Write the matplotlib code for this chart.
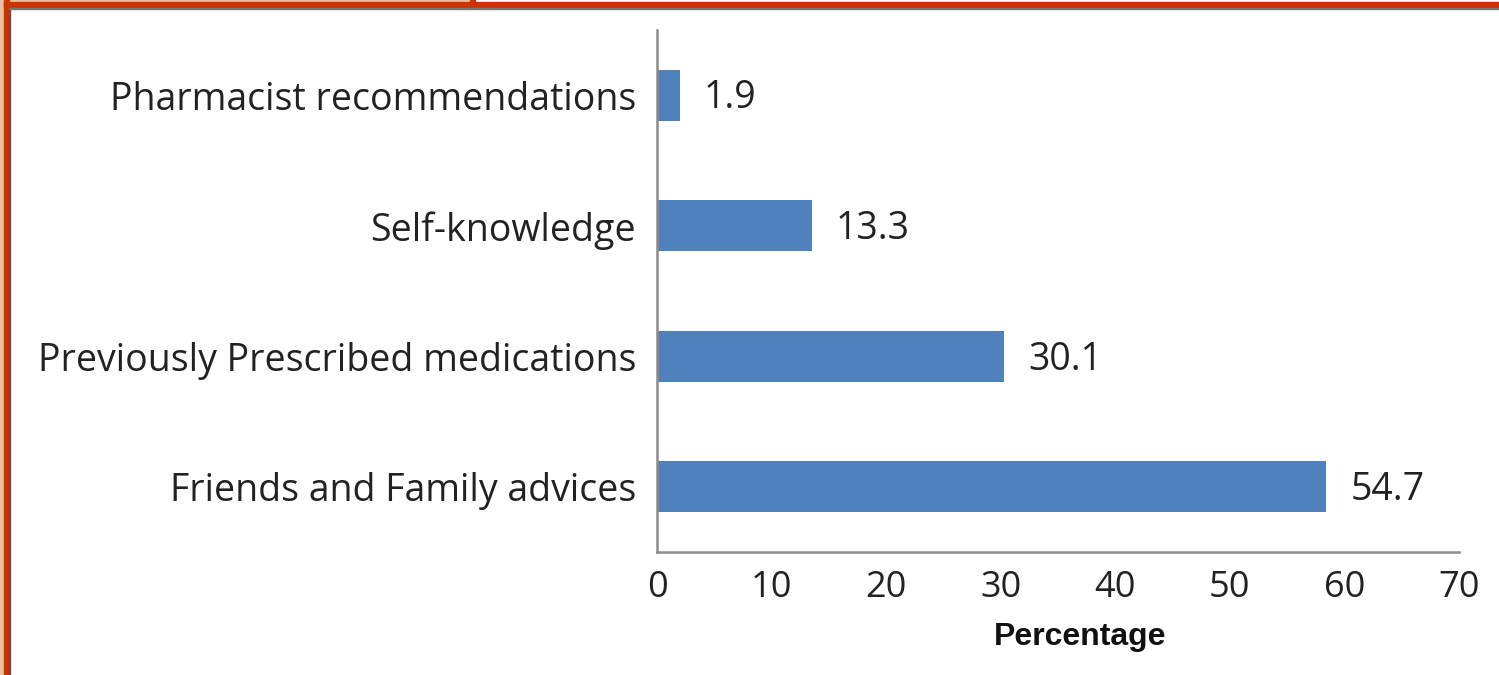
import matplotlib.pyplot as plt
from matplotlib.patches import Rectangle

categories = ['Friends and Family advices', 'Previously Prescribed medications',
              'Self-knowledge', 'Pharmacist recommendations']
# bar lengths as drawn in the picture (the largest bar overshoots its label)
bar_lengths = [58.4, 30.3, 13.5, 2.0]
label_values = [54.7, 30.1, 13.3, 1.9]
xticks = [0, 10, 20, 30, 40, 50, 60, 70]

W, H = 1499, 675
fig = plt.figure(figsize=(W / 100, H / 100), dpi=100)
ax = fig.add_axes([0.4383, 0.1822, 0.5350, 0.7734])

ypos = list(range(len(categories)))
ax.barh(ypos, bar_lengths, height=0.39, color='#4f81bd')
for y, length, val in zip(ypos, bar_lengths, label_values):
    ax.text(length + 2.1, y - 0.025, f'{val}', va='center', ha='left',
            fontsize=27, family='Open Sans', color='#222222')

ax.set_xlim(0, 70)
ax.set_ylim(-0.5, 3.5)
ax.set_yticks(ypos)
ax.set_yticklabels(categories, fontsize=27, family='Open Sans', color='#222222')
ax.set_xticks(xticks)
ax.set_xticklabels([str(t) for t in xticks], fontsize=26, family='Open Sans', color='#222222')
ax.tick_params(axis='both', length=0)
ax.tick_params(axis='y', pad=15)
ax.tick_params(axis='x', pad=13)

fig.text(1080 / W, 1 - 645 / H, 'Percentage', ha='center', va='baseline',
         fontsize=23, fontweight='bold', family='Liberation Sans', color='#111111')

for side in ['top', 'right']:
    ax.spines[side].set_visible(False)
for side in ['left', 'bottom']:
    ax.spines[side].set_color('#8c8c8c')
    ax.spines[side].set_linewidth(1.8)

# orange frame on the top and left edges
fig.patches.append(Rectangle((0, 0), 4 / W, 1, transform=fig.transFigure,
                             color='#f0bfa0', zorder=0))
fig.patches.append(Rectangle((0, 1 - 2 / H), 470 / W, 2 / H, transform=fig.transFigure,
                             color='#f0bfa0', zorder=0))
fig.patches.append(Rectangle((4 / W, 0), 5 / W, 1, transform=fig.transFigure,
                             color='#cc3300', zorder=1))
fig.patches.append(Rectangle((4 / W, 1 - 8 / H), 1, 6 / H, transform=fig.transFigure,
                             color='#cc3300', zorder=1))
fig.patches.append(Rectangle((470 / W, 1 - 8 / H), 5 / W, 8 / H, transform=fig.transFigure,
                             color='#cc3300', zorder=1))
fig.patches.append(Rectangle((9 / W, 0), 1 / W, 1 - 8 / H, transform=fig.transFigure,
                             color='#555555', zorder=1))
fig.patches.append(Rectangle((9 / W, 1 - 9 / H), 1, 1 / H, transform=fig.transFigure,
                             color='#777777', zorder=1))

fig.savefig('out.png', dpi=100)
